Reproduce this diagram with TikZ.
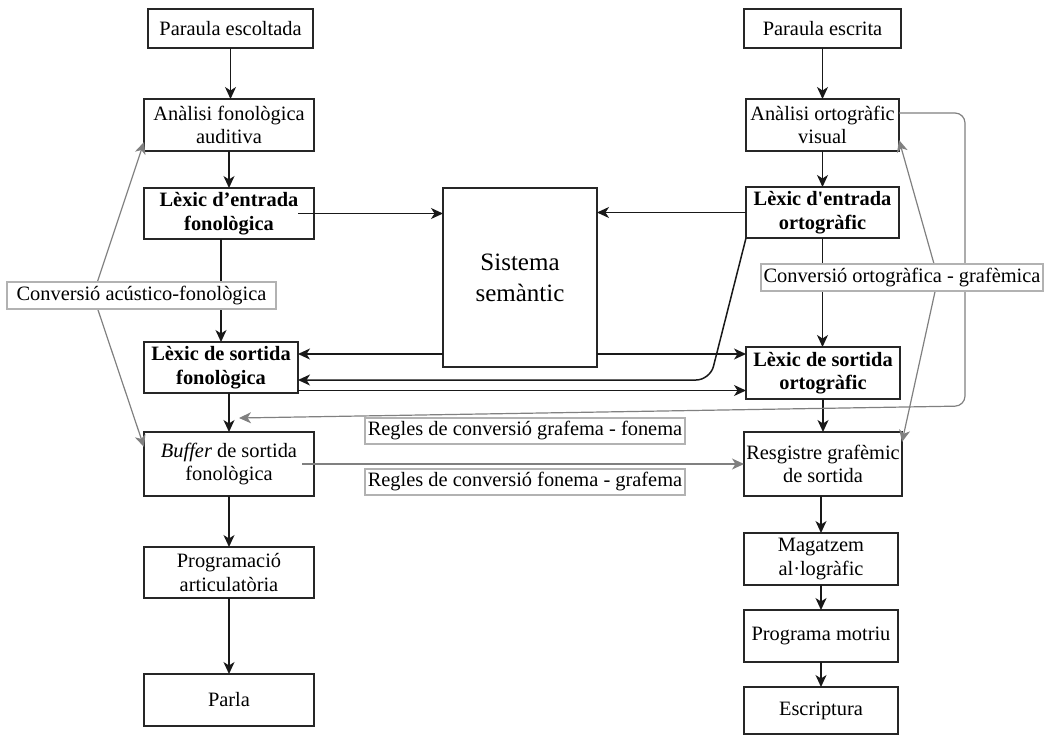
\documentclass[tikz,border=0pt]{standalone}
\usepackage{fontspec}
\setmainfont{Liberation Serif}
\usetikzlibrary{arrows.meta}
\newcommand\boxfont{\fontsize{20.4pt}{23.5pt}\selectfont}
\newcommand\semfont{\fontsize{25pt}{31pt}\selectfont}
\begin{document}
\begin{tikzpicture}[x=1pt,y=-1pt,
  box/.style={draw=black!85, line width=1.5pt, fill=white, align=center,
    inner sep=1pt, outer sep=0pt, font=\boxfont},
  bbox/.style={box, font=\boxfont\bfseries},
  lab/.style={draw=black!30, line width=1.3pt, fill=white, inner sep=1pt,
    outer sep=0pt, font=\boxfont},
  arr/.style={line width=1.5pt, draw=black!90, -{Stealth[length=12pt,width=11pt,inset=3.5pt]}},
  garr/.style={line width=1.2pt, draw=black!50, -{Stealth[length=12pt,width=11pt,inset=3.5pt]}},
  garrboth/.style={line width=1.2pt, draw=black!50,
    {Stealth[length=12pt,width=11pt,inset=3.5pt]}-{Stealth[length=12pt,width=11pt,inset=3.5pt]}}]
\useasboundingbox (0,0) rectangle (1046,736);

% auditory route (left column)
\node[box, minimum width=165pt, minimum height=39pt] (pe) at (230.5,28.5) {Paraula escoltada};
\node[box, minimum width=170pt, minimum height=52pt] (afa) at (229,125) {Anàlisi fonològica\\auditiva};
\node[bbox, minimum width=170pt, minimum height=51pt] (lef) at (229,213.5) {Lèxic d’entrada\\fonològica};
\node[bbox, minimum width=154pt, minimum height=51pt] (lsf) at (221,367.5) {Lèxic de sortida\\fonològica};
\node[box, minimum width=170pt, minimum height=64pt] (buf) at (229,464) {\textit{Buffer} de sortida\\fonològica};
\node[box, minimum width=170pt, minimum height=51pt] (pa) at (229,572.5) {Programació\\articulatòria};
\node[box, minimum width=170pt, minimum height=52pt] (parla) at (229,700) {Parla};

% visual route (right column)
\node[box, minimum width=157pt, minimum height=39pt] (pes) at (822.5,28.5) {Paraula escrita};
\node[box, minimum width=153pt, minimum height=52pt] (aov) at (822.5,125) {Anàlisi ortogràfic\\visual};
\node[bbox, minimum width=153pt, minimum height=51pt] (leo) at (822.5,212.5) {Lèxic d\textquotesingle entrada\\ortogràfic};
\node[bbox, minimum width=154pt, minimum height=52pt] (lso) at (823,373) {Lèxic de sortida\\ortogràfic};
\node[box, minimum width=158pt, minimum height=64pt] (rgs) at (823,464) {Resgistre grafèmic\\de sortida};
\node[box, minimum width=154pt, minimum height=52pt] (mag) at (821,559) {Magatzem\\al·logràfic};
\node[box, minimum width=154pt, minimum height=52pt] (pm) at (821,636) {Programa motriu};
\node[box, minimum width=154pt, minimum height=47pt] (esc) at (821,710.5) {Escriptura};

% semantic system
\node[box, font=\semfont, minimum width=154pt, minimum height=179pt] (sem) at (520,277.5) {Sistema\\semàntic};

% vertical flow, left
\draw[arr] (pe.south) -- (pe.south |- afa.north);
\draw[arr] (afa.south) -- (afa.south |- lef.north);
\draw[arr] (lef.south -| lsf.north) -- (lsf.north);
\draw[arr] (lsf.south -| buf.north) -- (buf.north);
\draw[arr] (buf) -- (pa);
\draw[arr] (pa) -- (parla);

% vertical flow, right
\draw[arr] (pes) -- (aov);
\draw[arr] (aov) -- (leo);
\draw[arr] (leo.south) -- (leo.south |- lso.north);
\draw[arr] (lso.south) -- (lso.south |- rgs.north);
\draw[arr] (rgs.south -| mag.north) -- (mag.north);
\draw[arr] (mag) -- (pm);
\draw[arr] (pm) -- (esc);

% links through the semantic system
\coordinate (s1) at ([xshift=-16pt]lef.east);
\draw[arr] (s1) -- (s1 -| sem.west);
\draw[arr] (leo.west) -- (leo.west -| sem.east);
\coordinate (s2) at ([yshift=-76.5pt]sem.west);
\draw[arr] (s2) -- (s2 -| lsf.east);
\coordinate (s3) at ([yshift=-76.5pt]sem.east);
\draw[arr] (s3) -- (s3 -| lso.west);

% direct lexical links
\coordinate (k1) at (710,380);
\draw[arr, rounded corners=14pt] (leo.south west) -- (k1) -- (k1 -| lsf.east);
\coordinate (s4) at ([yshift=-23pt]lsf.east);
\draw[arr] (s4) -- (s4 -| lso.west);

% sublexical conversion routes (grey)
\coordinate (g0) at ([yshift=12pt]aov.east);
\coordinate (gTR) at (965,113);
\coordinate (gBR) at (965,406);
\coordinate (gE) at (239,418);
\draw[garr, rounded corners=10pt] (g0) -- (gTR) -- (gBR) -- (gE);
\coordinate (b0) at ([xshift=-12pt]buf.east);
\draw[garr] (b0) -- (rgs.west);
\coordinate (cl) at (93,295);
\draw[garrboth] ([yshift=-17pt]afa.west) -- (cl) -- ([yshift=17pt]buf.west);
\coordinate (cr) at (938,278);
\draw[garrboth] ([yshift=-15pt]aov.east) -- (cr) -- ([yshift=22pt]rgs.east);

% route labels
\node[lab, minimum width=269pt, minimum height=27pt] (l1) at (141.5,295.5) {Conversió acústico-fonològica};
\node[lab, minimum width=282pt, minimum height=27pt] (l2) at (902,277.5) {Conversió ortogràfica - grafèmica};
\node[lab, minimum width=320pt, minimum height=26pt] (l3) at (525,431) {Regles de conversió grafema - fonema};
\node[lab, minimum width=320pt, minimum height=26pt] (l4) at (525,482) {Regles de conversió fonema - grafema};
\end{tikzpicture}
\end{document}
